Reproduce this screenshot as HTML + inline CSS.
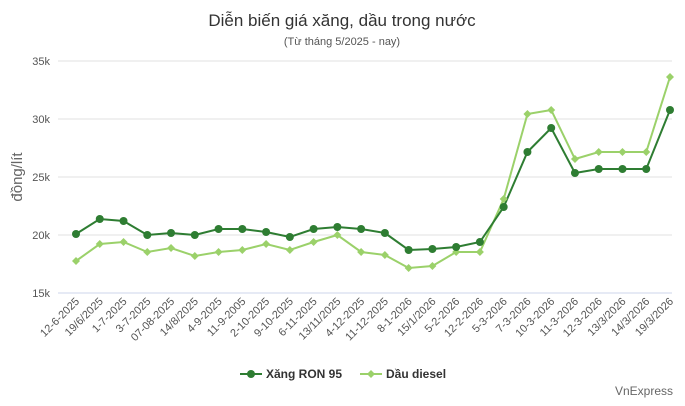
<!DOCTYPE html>
<html><head><meta charset="utf-8"><style>
body{margin:0;background:#fff;width:685px;height:401px;overflow:hidden;font-family:"Liberation Sans","Noto Sans CJK SC",sans-serif}
</style></head><body>
<svg width="685" height="401" xmlns="http://www.w3.org/2000/svg" font-family="Liberation Sans, sans-serif">
<text x="342" y="26" text-anchor="middle" font-size="17" fill="#333">Diễn biến giá xăng, dầu trong nước</text>
<text x="342" y="45" text-anchor="middle" font-size="11" fill="#555">(Từ tháng 5/2025 - nay)</text>
<g stroke="#e0e0e0" stroke-width="1">
<line x1="58" y1="61" x2="672" y2="61"/><line x1="58" y1="119" x2="672" y2="119"/><line x1="58" y1="177" x2="672" y2="177"/><line x1="58" y1="235" x2="672" y2="235"/>
</g>
<line x1="58" y1="293" x2="672" y2="293" stroke="#ccd6eb"/>
<g font-size="11" fill="#555" text-anchor="end">
<text x="50" y="65">35k</text><text x="50" y="123">30k</text><text x="50" y="181">25k</text><text x="50" y="239">20k</text><text x="50" y="297">15k</text>
</g>
<text transform="translate(22,177) rotate(-90)" text-anchor="middle" font-size="15" fill="#666">đồng/lít</text>
<g id="lbl" font-size="11" fill="#555" text-anchor="end"></g>
<polyline id="d" fill="none" stroke="#9bd16a" stroke-width="2"/>
<polyline id="r" fill="none" stroke="#2e7d32" stroke-width="2"/>
<g id="pts"></g>
<line x1="240" y1="374" x2="262" y2="374" stroke="#2e7d32" stroke-width="2"/><circle cx="251" cy="374" r="4" fill="#2e7d32"/>
<text x="266" y="378" font-size="12" font-weight="bold" fill="#333">Xăng RON 95</text>
<line x1="360" y1="374" x2="382" y2="374" stroke="#9bd16a" stroke-width="2"/><path d="M371 370 L375 374 L371 378 L367 374Z" fill="#9bd16a"/>
<text x="386" y="378" font-size="12" font-weight="bold" fill="#333">Dầu diesel</text>
<text x="673" y="395" text-anchor="end" font-size="12" fill="#666">VnExpress</text>
</svg>
<script>
var L=["12-6-2025","19/6/2025","1-7-2025","3-7-2025","07-08-2025","14/8/2025","4-9-2025","11-9-2005","2-10-2025","9-10-2025","6-11-2025","13/11/2025","4-12-2025","11-12-2025","8-1-2026","15/1/2026","5-2-2026","12-2-2026","5-3-2026","7-3-2026","10-3-2026","11-3-2026","12-3-2026","13/3/2026","14/3/2026","19/3/2026"];
var R=[234,219,221,235,233,235,229,229,232,237,229,227,229,233,250,249,247,242,207,152,128,173,169,169,169,110];
var D=[261,244,242,252,248,256,252,250,244,250,242,235,252,255,268,266,252,252,199,114,110,159,152,152,152,77];
var ns="http://www.w3.org/2000/svg",lg=document.getElementById("lbl"),pg=document.getElementById("pts"),rp=[],dp=[];
for(var i=0;i<26;i++){var x=76+i*23.76;rp.push(x+","+R[i]);dp.push(x+","+D[i]);
var t=document.createElementNS(ns,"text");t.setAttribute("transform","translate("+(x+4)+",302) rotate(-45)");t.textContent=L[i];lg.appendChild(t);
var p=document.createElementNS(ns,"path");p.setAttribute("d","M"+x+" "+(D[i]-4)+" L"+(x+4)+" "+D[i]+" L"+x+" "+(D[i]+4)+" L"+(x-4)+" "+D[i]+"Z");p.setAttribute("fill","#9bd16a");pg.appendChild(p);
var c=document.createElementNS(ns,"circle");c.setAttribute("cx",x);c.setAttribute("cy",R[i]);c.setAttribute("r",4);c.setAttribute("fill","#2e7d32");pg.appendChild(c);}
document.getElementById("r").setAttribute("points",rp.join(" "));
document.getElementById("d").setAttribute("points",dp.join(" "));
</script>
</body></html>
